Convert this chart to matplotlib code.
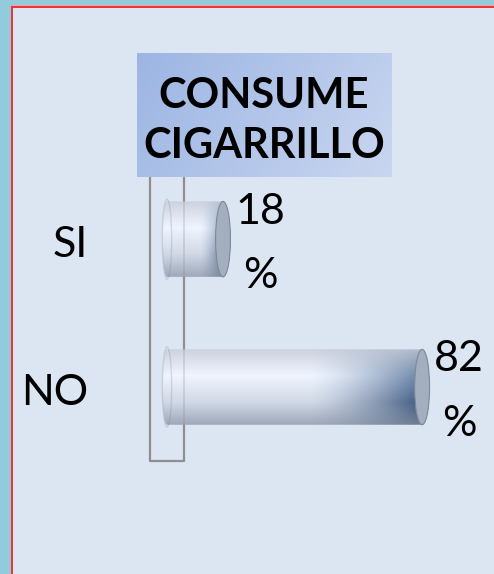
import numpy as np
import matplotlib
matplotlib.use("Agg")
import matplotlib.pyplot as plt
from matplotlib.patches import Rectangle, Ellipse, Polygon
from matplotlib.lines import Line2D
import matplotlib.transforms as mtransforms

plt.rcParams['font.family'] = ['Lato', 'DejaVu Sans']

# data
categorias = ['SI', 'NO']
porcentajes = [18, 82]
posiciones = [1, 0]
titulo = ['CONSUME', 'CIGARRILLO']

W, H = 494, 574
fig = plt.figure(figsize=(W / 100, H / 100), dpi=100)

# fondo: franja celeste y panel claro con borde rojo
fig.patches.append(Rectangle((0, 0), 1, 1, transform=fig.transFigure,
                             facecolor='#93cbdc', edgecolor='none', zorder=-10))
fig.patches.append(Rectangle((12 / W, 0), 1, 1 - 7 / H, transform=fig.transFigure,
                             facecolor='#dce6f2', edgecolor='none', zorder=-9))
fig.lines.append(Line2D([11.5 / W, 11.5 / W], [0, 1 - 6.5 / H], transform=fig.transFigure,
                        color='#f03030', lw=1.4, zorder=-8))
fig.lines.append(Line2D([11.5 / W, 1], [1 - 6.5 / H, 1 - 6.5 / H], transform=fig.transFigure,
                        color='#f03030', lw=1.4, zorder=-8))
fig.lines.append(Line2D([11.5 / W, 1], [1 - 5 / H, 1 - 5 / H], transform=fig.transFigure,
                        color='#f4a0a8', lw=0.8, zorder=-8))


def px_axes(x0, y0, x1, y1):
    return [x0 / W, 1 - y1 / H, (x1 - x0) / W, (y1 - y0) / H]


ax = fig.add_axes(px_axes(150, 177, 484, 461))
ax.set_xlim(-5.47, 101.9)
ax.set_ylim(-0.5, 1.42)
ax.axis('off')
ax.patch.set_alpha(0)

# pared del eje (caja gris)
ax.plot([-5.47, -5.47, 5.47, 5.47], [1.42, -0.5, -0.5, 1.42], color='#8e8e8e',
        lw=1.6, clip_on=False, zorder=1)

alto = 0.51
rx_izq, rx_der = 1.5, 2.4


def textura(n_y=120, n_x=300):
    t = np.linspace(0, 1, n_y)
    s = np.linspace(0, 1, n_x)
    puntos_t = [0, 0.35, 0.7, 1]
    claro = np.array([[0.80, 0.82, 0.87], [0.94, 0.96, 1.00], [0.82, 0.85, 0.90], [0.62, 0.66, 0.73]])
    oscuro = np.array([[0.70, 0.74, 0.80], [0.45, 0.55, 0.68], [0.28, 0.38, 0.53], [0.44, 0.50, 0.58]])
    c1 = np.stack([np.interp(t, puntos_t, claro[:, k]) for k in range(3)], axis=-1)
    c2 = np.stack([np.interp(t, puntos_t, oscuro[:, k]) for k in range(3)], axis=-1)
    d = np.clip((s - 0.55) / 0.4, 0, 1) ** 1.4
    return c1[:, None, :] * (1 - d[None, :, None]) + c2[:, None, :] * d[None, :, None]


for y, v in zip(posiciones, porcentajes):
    th_l = np.linspace(np.pi / 2, 3 * np.pi / 2, 40)
    th_r = np.linspace(-np.pi / 2, np.pi / 2, 40)
    pts = np.vstack([
        np.column_stack([rx_izq * np.cos(th_l), y + alto / 2 * np.sin(th_l)]),
        np.column_stack([v + rx_der * np.cos(th_r), y + alto / 2 * np.sin(th_r)]),
    ])
    contorno = Polygon(pts, closed=True, transform=ax.transData, facecolor='none', edgecolor='none')
    ax.add_patch(contorno)
    im = ax.imshow(textura(), extent=(-rx_izq, v + rx_der, y - alto / 2, y + alto / 2),
                   aspect='auto', interpolation='bilinear', zorder=2)
    im.set_clip_path(contorno)
    # tapa derecha
    ax.add_patch(Ellipse((v, y), 2 * rx_der, alto, facecolor='#a3aebe',
                         edgecolor='#7d8a9c', lw=0.8, zorder=3))
    # borde izquierdo
    ax.add_patch(Ellipse((0, y), 2 * rx_izq, alto * 1.06, facecolor='none',
                         edgecolor='#7c8694', lw=1.0, alpha=0.25, zorder=3))
    # etiquetas de valor
    ax.annotate(f'{v}', (v, y), xytext=(26.6, 11.2), textcoords='offset points',
                ha='center', va='baseline', fontsize=31, color='black')
    ax.annotate('%', (v, y), xytext=(26.6, -35), textcoords='offset points',
                ha='center', va='baseline', fontsize=31, color='black')

# linea de la pared vista a traves de las barras
ax.plot([5.47, 5.47], [-0.5, 1.42], color='#8e8e8e', lw=1.2, alpha=0.3, zorder=4)

# etiquetas de categoria
trans = mtransforms.blended_transform_factory(ax.transAxes, ax.transData)
for y, c in zip(posiciones, categorias):
    ax.text((88 - 150) / 334, y - 0.12, c, transform=trans, ha='right', va='baseline',
            fontsize=31, color='black')

# cuadro del titulo con degradado
tax = fig.add_axes(px_axes(137, 53, 391, 177))
gx = np.linspace(0, 1, 200)[None, :]
gy = np.linspace(0, 1, 100)[:, None]
g = np.clip(0.75 * gx + 0.25 * gy, 0, 1)
c_a = np.array([0.61, 0.71, 0.89])
c_b = np.array([0.79, 0.84, 0.94])
grad = c_a[None, None, :] * (1 - g[..., None]) + c_b[None, None, :] * g[..., None]
tax.imshow(grad, extent=(0, 1, 0, 1), aspect='auto', interpolation='bilinear')
tax.set_xlim(0, 1)
tax.set_ylim(0, 1)
tax.axis('off')
tax.text(0.5, 0.556, titulo[0], ha='center', va='baseline', fontsize=30,
         fontweight='bold', color='black')
tax.text(0.5, 0.153, titulo[1], ha='center', va='baseline', fontsize=30,
         fontweight='bold', color='black')

fig.savefig('out.png', dpi=100)
